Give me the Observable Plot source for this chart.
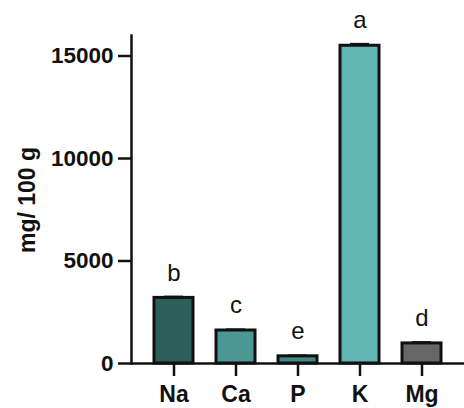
<!DOCTYPE html>
<html>
<head>
<meta charset="utf-8">
<script src="https://cdn.jsdelivr.net/npm/d3@7"></script>
<script src="https://cdn.jsdelivr.net/npm/@observablehq/plot@0.6"></script>
<style>
  body { margin: 0; background: #fff; }
</style>
</head>
<body>
<div id="chart"></div>
<script>
const minerals = ["Na", "Ca", "P", "K", "Mg"];
const values = [3200, 1610, 350, 15500, 980];
const errors = [50, 40, 30, 80, 50];
const letters = ["b", "c", "e", "a", "d"];
const colors = ["#2d5f5a", "#4b9793", "#3f8883", "#62b5b3", "#666666"];
const yTicks = [0, 5000, 10000, 15000];

const data = minerals.map((m, i) => ({
  mineral: m, value: values[i], err: errors[i], letter: letters[i], color: colors[i]
}));

const chart = Plot.plot({
  width: 464,
  height: 408,
  marginLeft: 131,
  marginRight: 0,
  marginTop: 35,
  marginBottom: 45,
  style: { fontFamily: "Liberation Sans, Arial, sans-serif", background: "#fff" },
  x: { domain: minerals, paddingInner: 0.37, paddingOuter: 0.365, label: null },
  y: { domain: [0, 16000], label: null },
  marks: [
    Plot.barY(data, {
      x: "mineral", y: "value", fill: "color",
      stroke: "#111", strokeWidth: 3
    }),
    Plot.tickY(data, {
      x: "mineral", y: d => d.value + d.err, stroke: "#111", strokeWidth: 2.5,
      inset: 10
    }),
    Plot.text(data, {
      x: "mineral", y: d => d.value + d.err, text: "letter",
      dy: -24, fontSize: 24, fill: "#111"
    }),
    Plot.axisY({
      ticks: yTicks, tickSize: 13, tickPadding: 5, strokeWidth: 2.5,
      fontSize: 22.5, fontWeight: "bold", fill: "#111", stroke: "#111",
      tickFormat: d => String(d), label: null
    }),
    Plot.axisX({
      tickSize: 13, tickPadding: 9, strokeWidth: 2.5,
      fontSize: 23, fontWeight: "bold", fill: "#111", stroke: "#111", label: null
    }),
    Plot.frame({ anchor: "left", stroke: "#111", strokeWidth: 2.5 }),
    Plot.ruleY([0], { stroke: "#111", strokeWidth: 2.5 })
  ]
});

const ns = "http://www.w3.org/2000/svg";
const t = document.createElementNS(ns, "text");
t.setAttribute("transform", "translate(35,200) rotate(-90)");
t.setAttribute("text-anchor", "middle");
t.setAttribute("font-size", "23");
t.setAttribute("font-weight", "bold");
t.setAttribute("fill", "#111");
t.textContent = "mg/ 100 g";
chart.appendChild(t);

document.getElementById("chart").appendChild(chart);
</script>
</body>
</html>
